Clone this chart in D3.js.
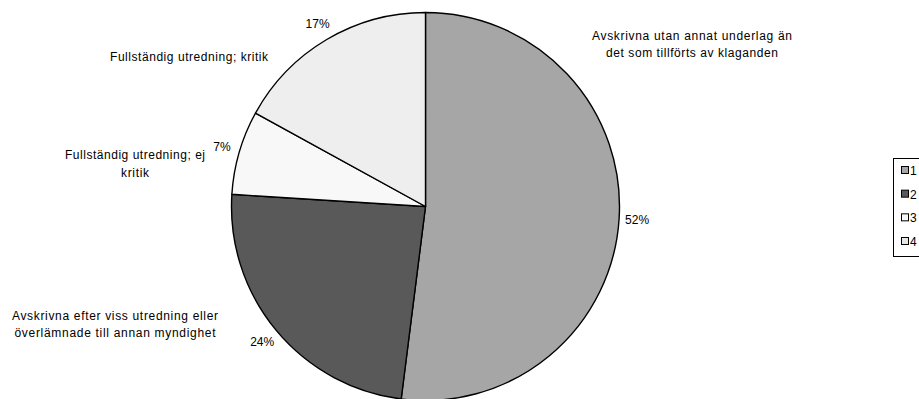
<!DOCTYPE html>
<html><head><meta charset="utf-8">
<script src="https://cdn.jsdelivr.net/npm/d3@7"></script>
<style>
html,body{margin:0;padding:0;background:#fff;}
svg{display:block;font-family:"Liberation Sans",Arial,sans-serif;}
</style></head>
<body>
<svg id="chart" width="919" height="399"></svg>
<script>
const categories = [
  "Avskrivna utan annat underlag än\ndet som tillförts av klaganden",
  "Avskrivna efter viss utredning eller\növerlämnade till annan myndighet",
  "Fullständig utredning; ej\nkritik",
  "Fullständig utredning; kritik"
];
const values = [52, 24, 7, 17];
const percentLabels = ["52%", "24%", "7%", "17%"];
const legendLabels = ["1", "2", "3", "4"];
const colors = ["#a6a6a6", "#595959", "#f8f8f8", "#eeeeee"];
const legendColors = ["#a6a6a6", "#595959", "#f8f8f8", "#e6e6e6"];

// layout of category label blocks (center x, first baseline y, line step, line widths)
const catLayout = [
  {x: 692, y: 40, dy: 17, w: [200, 172]},
  {x: 115, y: 320, dy: 17, w: [206, 201]},
  {x: 135, y: 159, dy: 18, w: [140, 28]},
  {x: 189, y: 61, dy: 17, w: [158]}
];

const svg = d3.select("#chart");
const cx = 425.5, cy = 206.5, r = 194;

const pie = d3.pie().sort(null).value(d => d);
const arcs = pie(values);
const arc = d3.arc().innerRadius(0).outerRadius(r);
const labelArc = d3.arc().innerRadius(212).outerRadius(212);

const g = svg.append("g").attr("transform", `translate(${cx},${cy})`);
g.selectAll("path").data(arcs).join("path")
  .attr("d", arc)
  .attr("fill", (d, i) => colors[i])
  .attr("stroke", "#000")
  .attr("stroke-width", 1.4)
  .attr("stroke-linejoin", "round");

g.selectAll("text.pct").data(arcs).join("text")
  .attr("class", "pct")
  .attr("x", d => labelArc.centroid(d)[0])
  .attr("y", d => labelArc.centroid(d)[1] + 4)
  .attr("text-anchor", "middle")
  .attr("font-size", 12)
  .attr("fill", "#000")
  .text((d, i) => percentLabels[i]);

categories.forEach((c, i) => {
  const L = catLayout[i];
  c.split("\n").forEach((line, j) => {
    svg.append("text")
      .attr("x", L.x - L.w[j] / 2)
      .attr("y", L.y + j * L.dy)
      .attr("font-size", 12)
      .attr("fill", "#000")
      .attr("textLength", L.w[j])
      .attr("lengthAdjust", "spacing")
      .text(line);
  });
});

// legend
const leg = svg.append("g");
leg.append("rect")
  .attr("x", 893.5).attr("y", 158.5)
  .attr("width", 40).attr("height", 98)
  .attr("fill", "#fff").attr("stroke", "#000").attr("stroke-width", 1);
const ly = d3.scaleLinear().domain([0, 3]).range([166, 237]);
legendLabels.forEach((lab, i) => {
  leg.append("rect")
    .attr("x", 901.5).attr("y", ly(i) + 0.5)
    .attr("width", 7).attr("height", 7)
    .attr("fill", legendColors[i]).attr("stroke", "#000").attr("stroke-width", 1);
  leg.append("text")
    .attr("x", 910).attr("y", ly(i) + 9)
    .attr("font-size", 12).attr("fill", "#000")
    .text(lab);
});
</script>
</body></html>
